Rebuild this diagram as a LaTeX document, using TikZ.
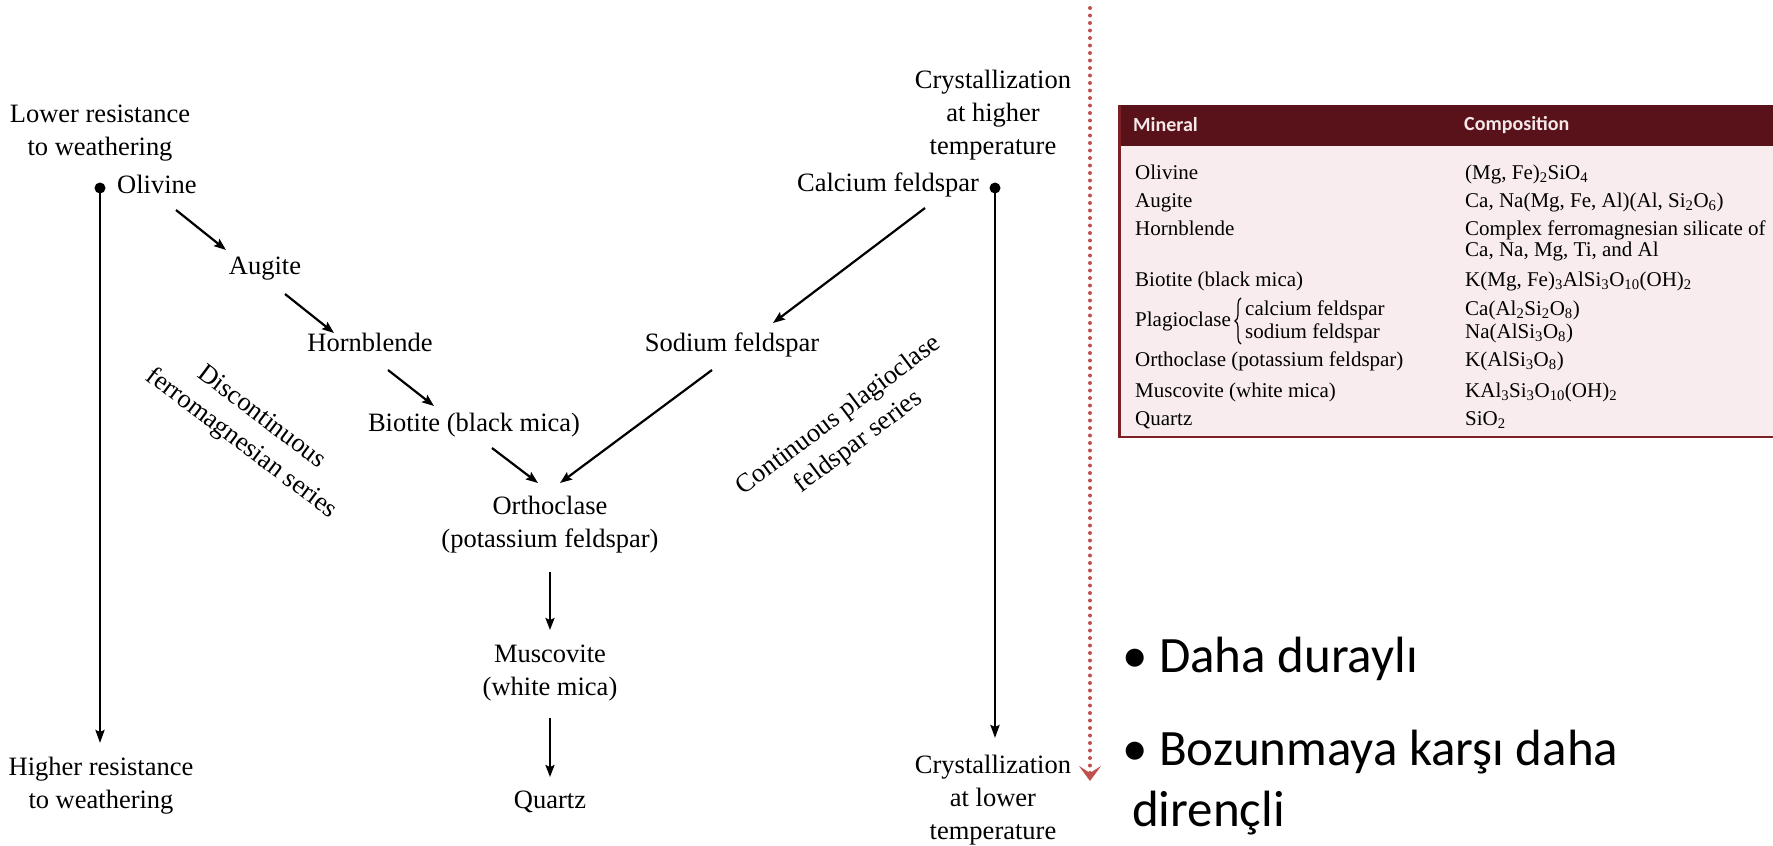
\documentclass[tikz,border=0pt]{standalone}
\usepackage{fontspec}
\setmainfont{Liberation Serif}
\newfontfamily\calfont{Carlito}
\usetikzlibrary{arrows.meta,decorations.pathreplacing}
\definecolor{hdrred}{RGB}{90,18,26}
\definecolor{tblpink}{RGB}{248,236,238}
\definecolor{tblborder}{RGB}{125,32,38}
\definecolor{dotred}{RGB}{192,80,77}
\definecolor{hdrtext}{RGB}{245,232,232}
\begin{document}
\begin{tikzpicture}[x=1pt,y=-1pt,
  lbl/.style={font=\fontsize{26.5}{33}\selectfont, inner sep=0pt, align=center},
  lbla/.style={font=\fontsize{26.5}{33}\selectfont, inner sep=0pt, text height=19pt, text depth=6pt},
  arr/.style={line width=2.2pt, -{Stealth[length=12pt,width=9pt,inset=2pt]}},
  longarr/.style={line width=2.6pt, -{Stealth[length=13pt,width=9pt,inset=2pt]}},
  dotnode/.style={circle, fill=black, inner sep=0pt, minimum size=11pt},
  reddots/.style={dotred, line width=4pt, line cap=round, dash pattern=on 0pt off 7.5pt,
     -{Stealth[length=15pt,width=22pt,inset=7pt]}},
  tbl/.style={font=\fontsize{21}{22}\selectfont, inner sep=0pt, anchor=west, text height=15pt, text depth=5pt},
  hdr/.style={font=\calfont\bfseries\fontsize{20}{22}\selectfont, text=hdrtext, anchor=west, inner sep=0pt},
  bul/.style={font=\calfont\fontsize{51}{62}\selectfont, anchor=west, inner sep=0pt, text height=37pt, text depth=12pt}
]
\useasboundingbox (0,0) rectangle (1773,846);
\fill[white] (0,0) rectangle (1773,846);

% ---------- left series ----------
\node[lbl] (lowres) at (100,133) {Lower resistance\\to weathering};
\node[dotnode] (ldot) at (100,188) {};
\node[lbla, anchor=west] (oli) at (117,187) {Olivine};
\node[lbla] (aug) at (265,268) {Augite};
\node[lbla] (hbl) at (370,345) {Hornblende};
\node[lbla] (bio) at (474,425) {Biotite (black mica)};
\node[lbl] (orth) at (550,525) {Orthoclase\\(potassium feldspar)};
\node[lbl] (musc) at (550,673) {Muscovite\\(white mica)};
\node[lbla] (qtz) at (550,802) {Quartz};
\node[lbl] (highres) at (101,786) {Higher resistance\\to weathering};
\coordinate (lend) at (100,743);
\draw[longarr] (ldot.center) -- (lend);

% ---------- right series ----------
\node[lbl] (crysthi) at (993,115) {Crystallization\\at higher\\temperature};
\node[lbla] (cal) at (888,185) {Calcium feldspar};
\node[dotnode] (rdot) at (995,188) {};
\node[lbla] (sod) at (732,345) {Sodium feldspar};
\node[lbl] (crystlo) at (993,800) {Crystallization\\at lower\\temperature};
\coordinate (rend) at (995,738);
\draw[longarr] (rdot.center) -- (rend);

% ---------- rotated labels ----------
\node[lbl, rotate=-37] (disc) at (251,431) {Discontinuous\\ferromagnesian series};
\node[lbl, rotate=37] (cont) at (849,429) {Continuous plagioclase\\feldspar series};

% ---------- arrow ends ----------
\coordinate (a1s) at (176,210); \coordinate (a1e) at (226,250);
\coordinate (a2s) at (285,294); \coordinate (a2e) at (334,333);
\coordinate (a3s) at (388,370); \coordinate (a3e) at (434,406);
\coordinate (a4s) at (492,448); \coordinate (a4e) at (538,483);
\coordinate (a5s) at (925,208); \coordinate (a5e) at (773,323);
\coordinate (a6s) at (712,370); \coordinate (a6e) at (560,483);
\coordinate (a7s) at (550,572); \coordinate (a7e) at (550,630);
\coordinate (a8s) at (550,718); \coordinate (a8e) at (550,777);
\draw[arr] (a1s) -- (a1e);
\draw[arr] (a2s) -- (a2e);
\draw[arr] (a3s) -- (a3e);
\draw[arr] (a4s) -- (a4e);
\draw[arr] (a5s) -- (a5e);
\draw[arr] (a6s) -- (a6e);
\draw[arr] (a7s) -- (a7e);
\draw[arr] (a8s) -- (a8e);

% ---------- red dotted arrow ----------
\coordinate (rdtop) at (1090,8);
\coordinate (rdbot) at (1090,781);
\draw[reddots] (rdtop) -- (rdbot);

% ---------- table ----------
\fill[tblpink] (1118,105) rectangle (1773,438);
\fill[hdrred] (1118,105) rectangle (1773,146);
\draw[tblborder, line width=2.5pt] (1119.25,105) -- (1119.25,436.75) -- (1773,436.75);
\node[hdr] (hmin) at (1133,125) {Mineral};
\node[hdr] (hcomp) at (1464,125) {Composition};

\node[tbl] (t1) at (1135,174) {Olivine};
\node[tbl] (c1) at (1465,174) {(Mg, Fe)\textsubscript{2}SiO\textsubscript{4}};
\node[tbl] (t2) at (1135,202) {Augite};
\node[tbl] (c2) at (1465,202) {Ca, Na(Mg, Fe, Al)(Al, Si\textsubscript{2}O\textsubscript{6})};
\node[tbl] (t3) at (1135,230) {Hornblende};
\node[tbl] (c3a) at (1465,230) {Complex ferromagnesian silicate of};
\node[tbl] (c3b) at (1465,251) {Ca, Na, Mg, Ti, and Al};
\node[tbl] (t4) at (1135,281) {Biotite (black mica)};
\node[tbl] (c4) at (1465,281) {K(Mg, Fe)\textsubscript{3}AlSi\textsubscript{3}O\textsubscript{10}(OH)\textsubscript{2}};
\node[tbl] (t5) at (1135,321) {Plagioclase};
\node[tbl] (t5a) at (1245,310) {calcium feldspar};
\node[tbl] (t5b) at (1245,333) {sodium feldspar};
\coordinate (brb) at (1241,344);
\coordinate (brt) at (1241,298);
\draw[decorate, decoration={brace, amplitude=6pt}, line width=1.2pt] (brb) -- (brt);
\node[tbl] (c5a) at (1465,310) {Ca(Al\textsubscript{2}Si\textsubscript{2}O\textsubscript{8})};
\node[tbl] (c5b) at (1465,333) {Na(AlSi\textsubscript{3}O\textsubscript{8})};
\node[tbl] (t6) at (1135,361) {Orthoclase (potassium feldspar)};
\node[tbl] (c6) at (1465,361) {K(AlSi\textsubscript{3}O\textsubscript{8})};
\node[tbl] (t7) at (1135,392) {Muscovite (white mica)};
\node[tbl] (c7) at (1465,392) {KAl\textsubscript{3}Si\textsubscript{3}O\textsubscript{10}(OH)\textsubscript{2}};
\node[tbl] (t8) at (1135,420) {Quartz};
\node[tbl] (c8) at (1465,420) {SiO\textsubscript{2}};

% ---------- bullets ----------
\node[bul] (b1) at (1122,660) {• Daha duraylı};
\node[bul] (b2) at (1122,753) {• Bozunmaya karşı daha};
\node[bul] (b3) at (1132,814) {dirençli};
\end{tikzpicture}
\end{document}
